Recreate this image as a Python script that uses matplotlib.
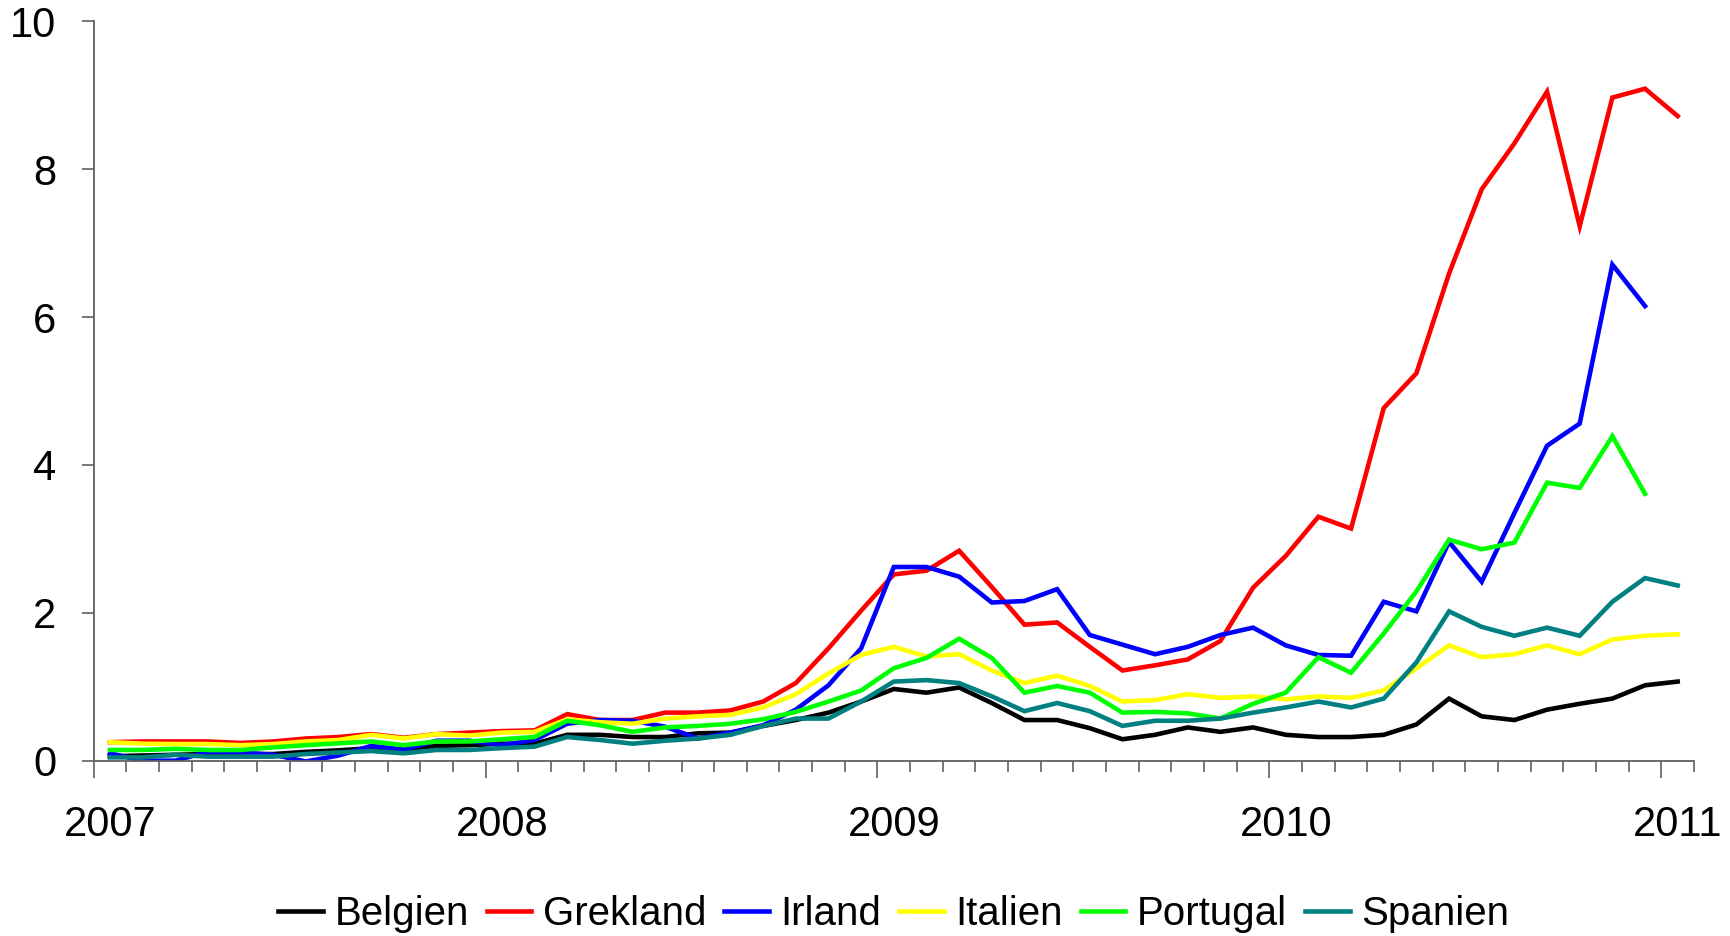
import numpy as np
import matplotlib
matplotlib.use("Agg")
import matplotlib.pyplot as plt
from matplotlib.ticker import FixedLocator, NullFormatter
from matplotlib.transforms import ScaledTranslation

plt.rcParams['font.family'] = ['Liberation Sans', 'DejaVu Sans']

# Monthly data, Jan 2007 - Jan 2011 (49 months)
year_labels = ["2007", "2008", "2009", "2010", "2011"]
n_months = 49

belgien = [0.06, 0.07, 0.08, 0.09, 0.09, 0.09, 0.12, 0.14, 0.17, 0.15, 0.20, 0.21,
           0.23, 0.23, 0.35, 0.35, 0.32, 0.32, 0.37, 0.38, 0.47, 0.55, 0.65, 0.80,
           0.97, 0.92, 0.99, 0.78, 0.55, 0.55, 0.44, 0.29, 0.35, 0.45, 0.39, 0.45,
           0.35, 0.32, 0.32, 0.35, 0.49, 0.84, 0.60, 0.55, 0.69, 0.77, 0.84, 1.02,
           1.07]
grekland = [0.25, 0.26, 0.26, 0.26, 0.24, 0.26, 0.30, 0.32, 0.36, 0.31, 0.36, 0.38,
            0.40, 0.41, 0.63, 0.55, 0.55, 0.65, 0.65, 0.68, 0.80, 1.05, 1.52, 2.03,
            2.52, 2.57, 2.84, 2.35, 1.84, 1.87, 1.54, 1.22, 1.29, 1.37, 1.62, 2.34,
            2.77, 3.30, 3.14, 4.77, 5.24, 6.59, 7.73, 8.35, 9.05, 7.23, 8.97, 9.09,
            8.72]
irland = [0.10, 0.00, 0.00, 0.12, 0.11, 0.08, -0.01, 0.07, 0.20, 0.15, 0.27, 0.27,
          0.21, 0.28, 0.50, 0.55, 0.54, 0.46, 0.30, 0.38, 0.48, 0.69, 1.02, 1.52,
          2.62, 2.62, 2.49, 2.14, 2.16, 2.32, 1.70, 1.57, 1.44, 1.54, 1.70, 1.80,
          1.56, 1.43, 1.42, 2.15, 2.02, 2.96, 2.42, 3.35, 4.26, 4.56, 6.71, 6.15,
          np.nan]
italien = [0.25, 0.23, 0.225, 0.225, 0.21, 0.225, 0.26, 0.28, 0.35, 0.30, 0.36, 0.34,
           0.38, 0.39, 0.56, 0.52, 0.50, 0.57, 0.60, 0.62, 0.72, 0.90, 1.18, 1.43,
           1.54, 1.41, 1.44, 1.22, 1.05, 1.15, 1.01, 0.80, 0.82, 0.90, 0.85, 0.87,
           0.83, 0.87, 0.85, 0.95, 1.25, 1.56, 1.40, 1.44, 1.56, 1.44, 1.64, 1.69,
           1.71]
portugal = [0.145, 0.145, 0.16, 0.145, 0.145, 0.18, 0.21, 0.235, 0.26, 0.21, 0.26, 0.26,
            0.29, 0.32, 0.54, 0.48, 0.39, 0.45, 0.47, 0.50, 0.56, 0.66, 0.80, 0.95,
            1.25, 1.39, 1.65, 1.39, 0.92, 1.01, 0.92, 0.65, 0.66, 0.64, 0.57, 0.77,
            0.92, 1.40, 1.19, 1.72, 2.29, 2.99, 2.86, 2.95, 3.76, 3.69, 4.39, 3.61,
            np.nan]
spanien = [0.045, 0.045, 0.08, 0.055, 0.055, 0.055, 0.09, 0.11, 0.13, 0.10, 0.145, 0.145,
           0.17, 0.19, 0.32, 0.28, 0.23, 0.27, 0.30, 0.35, 0.47, 0.57, 0.57, 0.80,
           1.07, 1.09, 1.05, 0.87, 0.67, 0.78, 0.67, 0.47, 0.54, 0.54, 0.57, 0.65,
           0.72, 0.80, 0.72, 0.84, 1.33, 2.02, 1.81, 1.69, 1.80, 1.69, 2.15, 2.47,
           2.37]

series_names = ["Belgien", "Grekland", "Irland", "Italien", "Portugal", "Spanien"]
series_values = [belgien, grekland, irland, italien, portugal, spanien]
series_colors = ["#000000", "#FF0000", "#0000FF", "#FFFF00", "#00FF00", "#008080"]

fig = plt.figure(figsize=(17.30, 9.36), dpi=100)
ax = fig.add_axes([0.0541, 0.1873, 0.9251, 0.7898])

x = np.arange(n_months) + 0.5
for name, vals, col in zip(series_names, series_values, series_colors):
    ax.plot(x, vals, color=col, lw=3.3, label=name, solid_joinstyle='miter')

ax.set_xlim(0, n_months)
ax.set_ylim(0, 10)
ax.set_yticks([0, 2, 4, 6, 8, 10])
ax.set_yticklabels(["0", "2", "4", "6", "8", "10"])
ax.xaxis.set_major_locator(FixedLocator([0, 12, 24, 36, 48]))
ax.set_xticklabels(year_labels)
ax.xaxis.set_minor_locator(FixedLocator(list(range(0, n_months + 1))))
ax.xaxis.set_minor_formatter(NullFormatter())

for s in ["top", "right"]:
    ax.spines[s].set_visible(False)
for s in ["left", "bottom"]:
    ax.spines[s].set_color("#606060")
    ax.spines[s].set_linewidth(1.3)

ax.tick_params(axis='y', direction='out', length=9, width=1.2, color="#606060",
               labelsize=30, pad=18)
ax.tick_params(axis='x', which='major', direction='out', length=12, width=1.2,
               color="#606060", labelsize=30, pad=20)
ax.tick_params(axis='x', which='minor', direction='out', length=8, width=1.2,
               color="#606060")

# year labels sit under the January category (half a slot right of the tick)
half_slot = ScaledTranslation(16.3 / 100, 0, fig.dpi_scale_trans)
for lab in ax.get_xticklabels():
    lab.set_transform(lab.get_transform() + half_slot)

leg = ax.legend(loc='upper center', bbox_to_anchor=(0.5, -0.16), ncol=6,
                frameon=False, fontsize=29, handlelength=1.1, handletextpad=0.29,
                columnspacing=0.45, borderaxespad=0)

fig.savefig("out.png", dpi=100)
